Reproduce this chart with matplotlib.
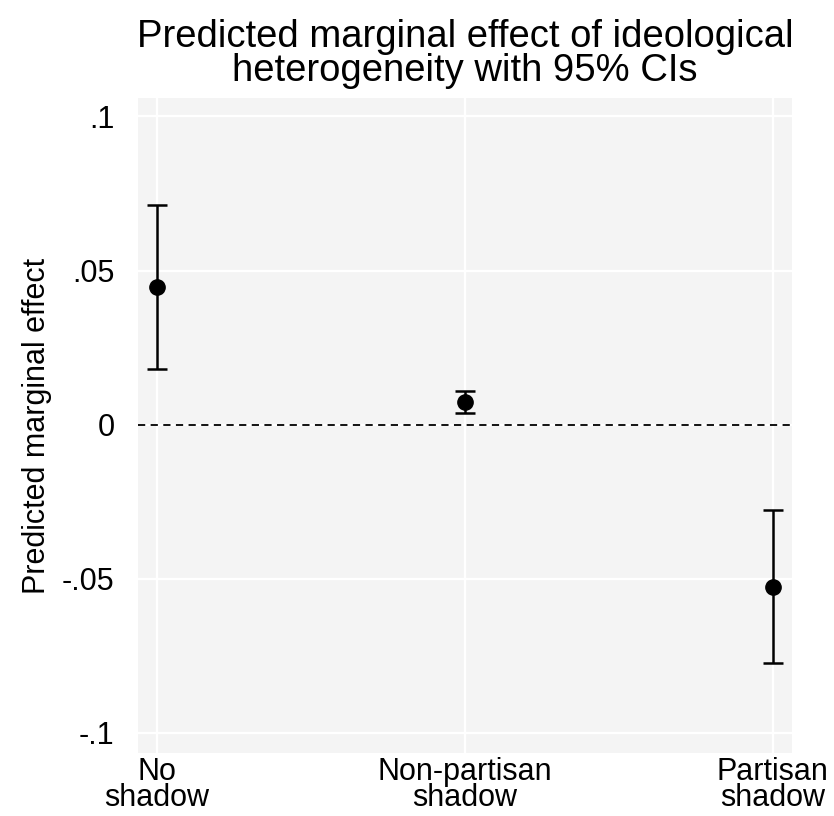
import matplotlib
matplotlib.use("Agg")
import matplotlib.pyplot as plt

categories = ["No\nshadow", "Non-partisan\nshadow", "Partisan\nshadow"]
effects = [0.0447, 0.0074, -0.0525]
ci_low = [0.0180, 0.0038, -0.0773]
ci_high = [0.0713, 0.0110, -0.0276]
yticks = [0.1, 0.05, 0.0, -0.05, -0.1]
yticklabels = [".1", ".05", "0", "-.05", "-.1"]

plt.rcParams['font.family'] = ['Liberation Sans', 'DejaVu Sans']

fig = plt.figure(figsize=(8.34, 8.16), dpi=100)
ax = fig.add_axes([0.1655, 0.0772, 0.7841, 0.8027])
ax.set_facecolor('#f4f4f4')
for s in ax.spines.values():
    s.set_visible(False)

x = list(range(len(categories)))
err_low = [e - l for e, l in zip(effects, ci_low)]
err_high = [h - e for e, h in zip(effects, ci_high)]
ax.axhline(0, color='black', linestyle=(0, (4, 3)), linewidth=1.3, zorder=2)
ax.errorbar(x, effects, yerr=[err_low, err_high], fmt='o', color='black',
            markersize=11, capsize=7, elinewidth=1.8, capthick=1.8, zorder=3)

ax.set_xlim(-0.062, 2.062)
ax.set_ylim(-0.1065, 0.106)
ax.set_xticks(x)
ax.set_xticklabels(categories, fontsize=22, linespacing=0.82)
ax.set_yticks(yticks)
ax.set_yticklabels(yticklabels, fontsize=22)
ax.tick_params(axis='x', length=0, pad=3)
ax.tick_params(axis='y', length=0, pad=17)
ax.grid(True, color='white', linewidth=1.6, zorder=1)
ax.set_axisbelow(True)
ax.set_ylabel("Predicted marginal effect", fontsize=22, labelpad=7)
ax.set_title("Predicted marginal effect of ideological\nheterogeneity with 95% CIs",
             fontsize=27.5, linespacing=0.95, pad=12)

fig.savefig("out.png", dpi=100)
